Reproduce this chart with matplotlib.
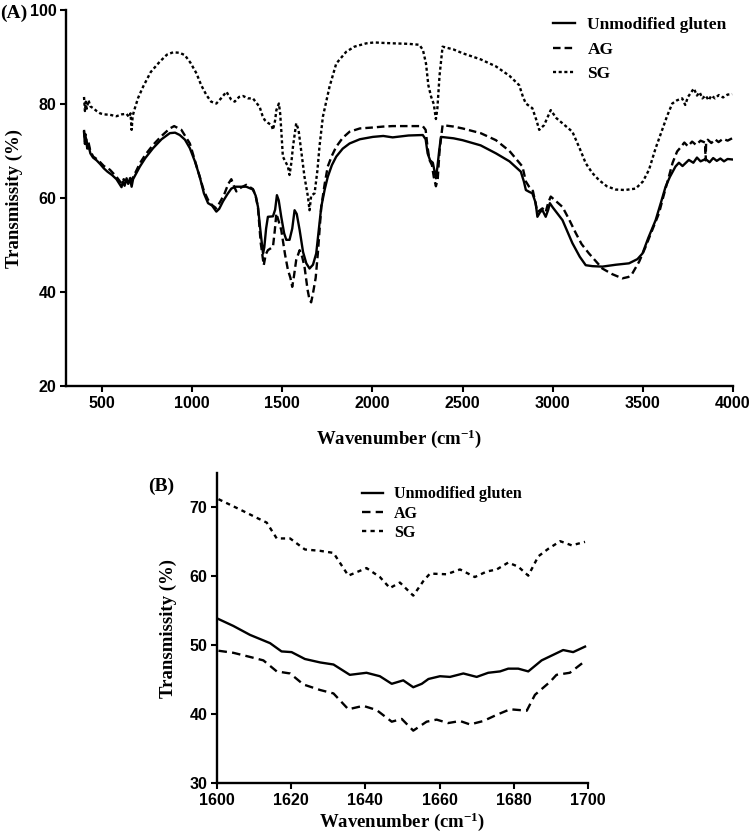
import matplotlib
matplotlib.use("Agg")
import matplotlib.pyplot as plt

# ---- panel A : full FTIR spectra ----
wn_ug = [400, 405, 410, 418, 425, 435, 450, 470, 490, 510, 530, 555, 580, 600, 608, 615, 625, 636, 645, 655,
         664, 672, 690, 710, 740, 783, 830, 876, 905, 931, 960, 987, 1015, 1042, 1065, 1088, 1110, 1134, 1150,
         1171, 1195, 1217, 1240, 1263, 1300, 1337, 1352, 1365, 1380, 1393, 1400, 1410, 1420, 1448, 1460, 1470,
         1480, 1494, 1510, 1522, 1540, 1555, 1568, 1580, 1596, 1615, 1633, 1651, 1670, 1688, 1700, 1716, 1735,
         1752, 1775, 1799, 1835, 1873, 1930, 2002, 2060, 2112, 2200, 2279, 2295, 2306, 2320, 2335, 2343, 2352,
         2360, 2370, 2380, 2450, 2500, 2600, 2685, 2760, 2823, 2840, 2851, 2870, 2887, 2905, 2915, 2930, 2943,
         2961, 2975, 2984, 3000, 3054, 3109, 3150, 3183, 3220, 3275, 3350, 3423, 3470, 3498, 3530, 3571, 3600,
         3626, 3650, 3681, 3700, 3720, 3755, 3780, 3800, 3820, 3848, 3870, 3890, 3910, 3930, 3950, 3970, 3995]
t_ug = [74.0, 71.5, 72.8, 70.5, 71.2, 69.5, 68.6, 68.0, 67.2, 66.3, 65.6, 64.9, 64.0, 62.8, 62.3, 63.5, 62.6,
        64.2, 63.0, 64.1, 62.4, 64.0, 65.3, 66.7, 68.5, 70.6, 72.5, 73.8, 73.9, 73.4, 72.4, 70.6, 67.8, 64.5,
        61.0, 58.9, 58.4, 57.1, 57.7, 59.3, 60.8, 62.0, 62.4, 62.4, 62.4, 61.8, 60.5, 58.1, 52.5, 48.2, 49.5,
        53.5, 56.0, 56.1, 57.5, 60.6, 59.5, 56.0, 52.5, 51.1, 51.1, 53.5, 57.4, 56.6, 53.2, 48.5, 46.1, 45.0,
        45.8, 48.2, 52.5, 58.1, 61.8, 64.5, 67.0, 68.8, 70.5, 71.6, 72.5, 73.0, 73.2, 72.9, 73.3, 73.4, 72.5,
        69.5, 68.0, 67.5, 66.0, 64.2, 66.5, 70.0, 73.0, 72.7, 72.3, 71.2, 69.5, 67.8, 65.6, 63.5, 61.7, 61.3,
        61.0, 59.0, 56.0, 57.0, 57.4, 56.0, 57.5, 58.9, 58.0, 55.3, 50.4, 47.5, 45.7, 45.5, 45.4, 45.8, 46.1,
        47.0, 48.2, 51.5, 55.3, 59.0, 62.4, 64.5, 66.7, 67.5, 66.8, 68.1, 67.5, 68.6, 67.8, 68.3, 67.6, 68.5,
        67.9, 68.4, 67.8, 68.3, 68.2]

wn_ag = [400, 405, 410, 418, 425, 435, 451, 470, 490, 510, 544, 580, 608, 620, 636, 650, 664, 690, 710, 740,
         783, 830, 876, 900, 940, 987, 1015, 1042, 1065, 1088, 1110, 1134, 1160, 1180, 1200, 1217, 1232, 1245,
         1270, 1300, 1337, 1352, 1365, 1380, 1397, 1408, 1420, 1448, 1458, 1467, 1480, 1494, 1515, 1531, 1545,
         1555, 1565, 1577, 1596, 1610, 1623, 1640, 1651, 1660, 1670, 1685, 1697, 1716, 1735, 1752, 1775, 1799,
         1835, 1873, 1930, 2002, 2060, 2112, 2200, 2279, 2295, 2305, 2316, 2330, 2340, 2352, 2362, 2372, 2389,
         2450, 2500, 2600, 2685, 2760, 2832, 2851, 2869, 2890, 2915, 2943, 2961, 2975, 2989, 3010, 3054, 3090,
         3127, 3160, 3201, 3240, 3275, 3330, 3386, 3420, 3441, 3480, 3515, 3550, 3589, 3615, 3644, 3665, 3690,
         3710, 3730, 3750, 3773, 3795, 3820, 3845, 3848, 3851, 3860, 3880, 3900, 3920, 3945, 3970, 3995]
t_ag = [74.5, 72.0, 73.5, 71.0, 71.8, 70.0, 68.8, 68.3, 67.6, 66.8, 66.0, 64.5, 63.1, 64.0, 63.4, 64.5, 63.8,
        65.8, 67.4, 69.2, 71.3, 73.2, 74.8, 75.3, 74.5, 71.6, 68.0, 64.5, 61.5, 59.6, 58.5, 57.8, 59.5, 61.0,
        63.0, 64.0, 62.5, 61.4, 62.2, 62.8, 61.9, 60.5, 57.9, 50.5, 45.7, 48.0, 48.9, 49.6, 53.0, 56.7, 55.0,
        53.2, 48.0, 44.7, 43.0, 41.1, 43.5, 46.8, 48.9, 47.5, 45.4, 40.5, 38.3, 37.8, 39.7, 43.0, 48.2, 58.1,
        63.0, 66.7, 69.0, 70.9, 72.8, 74.1, 74.8, 75.0, 75.2, 75.3, 75.3, 75.3, 74.5, 71.0, 68.1, 67.0, 64.5,
        62.5, 64.0, 70.0, 75.5, 75.2, 74.8, 73.8, 72.3, 70.0, 66.7, 63.5, 62.4, 61.5, 57.0, 57.8, 57.0, 59.0,
        60.3, 59.6, 58.1, 55.5, 52.6, 50.2, 48.2, 46.5, 45.0, 43.8, 42.9, 43.2, 43.9, 46.5, 49.6, 53.0, 56.7,
        60.5, 64.5, 67.5, 69.9, 70.8, 71.8, 71.0, 72.0, 71.3, 72.2, 71.8, 68.0, 71.9, 72.4, 71.7, 72.5, 71.9,
        72.6, 72.2, 72.7]

wn_sg = [400, 405, 410, 415, 425, 435, 451, 470, 490, 510, 544, 580, 610, 636, 650, 658, 664, 670, 682, 700,
         728, 770, 820, 860, 894, 930, 959, 990, 1024, 1050, 1079, 1105, 1134, 1160, 1190, 1215, 1236, 1260,
         1282, 1310, 1337, 1355, 1374, 1390, 1402, 1420, 1440, 1448, 1460, 1467, 1481, 1488, 1494, 1503, 1520,
         1531, 1540, 1550, 1559, 1577, 1590, 1605, 1623, 1642, 1651, 1660, 1679, 1695, 1706, 1725, 1762, 1799,
         1854, 1900, 1965, 2010, 2057, 2120, 2200, 2260, 2280, 2297, 2310, 2325, 2340, 2352, 2360, 2372, 2389,
         2450, 2500, 2600, 2685, 2760, 2814, 2835, 2851, 2887, 2910, 2925, 2952, 2989, 3020, 3054, 3109, 3150,
         3183, 3220, 3257, 3300, 3349, 3400, 3460, 3500, 3534, 3570, 3607, 3635, 3663, 3690, 3718, 3735, 3750,
         3765, 3783, 3800, 3815, 3830, 3848, 3865, 3880, 3900, 3921, 3945, 3970, 3995]
t_sg = [81.5, 78.5, 80.5, 79.0, 80.8, 79.5, 79.1, 78.5, 78.0, 77.8, 77.7, 77.4, 77.8, 77.9, 77.2, 78.0, 74.5,
        77.5, 79.1, 81.3, 83.7, 86.8, 89.0, 90.5, 91.0, 90.9, 90.4, 88.8, 86.5, 84.0, 81.9, 80.5, 80.1, 81.2,
        82.6, 81.0, 80.5, 81.5, 81.7, 81.2, 81.2, 80.3, 79.4, 77.5, 76.6, 76.0, 75.5, 74.5, 76.5, 78.7, 80.1,
        78.0, 74.5, 68.8, 67.5, 66.7, 64.9, 67.5, 70.9, 75.9, 74.5, 70.0, 64.5, 60.3, 57.4, 60.5, 61.0, 66.0,
        70.9, 77.3, 83.7, 88.6, 91.1, 92.2, 92.9, 93.1, 93.0, 92.9, 92.8, 92.6, 91.5, 88.6, 84.0, 81.6, 80.0,
        76.8, 79.0, 86.0, 92.2, 91.6, 90.8, 89.5, 88.0, 86.0, 84.0, 81.5, 80.1, 79.1, 76.5, 74.5, 75.5, 78.7,
        77.0, 75.9, 74.1, 70.5, 67.4, 65.3, 63.8, 62.5, 61.8, 61.7, 62.0, 63.5, 66.0, 70.5, 74.5, 77.5, 80.1,
        80.8, 81.2, 79.8, 81.5, 82.3, 83.3, 81.8, 82.5, 81.2, 81.8, 80.8, 81.8, 81.2, 81.9, 81.4, 82.0, 82.1]

# ---- panel B : amide I zoom ----
wnb_ug = [1600.4, 1604.4, 1608.9, 1614.3, 1617.4, 1620.1, 1623.7, 1627.8, 1631.4, 1635.8, 1640.3, 1643.9,
          1647.1, 1650.2, 1652.9, 1655.2, 1657.0, 1660.1, 1662.8, 1666.4, 1670.0, 1673.1, 1676.3, 1678.5,
          1681.2, 1683.9, 1687.5, 1690.6, 1693.3, 1696.0, 1699.2]
tb_ug = [53.8, 52.8, 51.5, 50.3, 49.1, 49.0, 48.0, 47.5, 47.2, 45.7, 46.0, 45.5, 44.4, 44.9, 43.9, 44.4, 45.1,
         45.5, 45.4, 45.9, 45.4, 46.0, 46.2, 46.6, 46.6, 46.2, 47.8, 48.6, 49.3, 49.0, 49.8]

wnb_ag = [1600.4, 1604.4, 1608.9, 1612.5, 1616.1, 1619.7, 1623.3, 1627.8, 1631.4, 1635.4, 1639.4, 1643.0,
          1647.1, 1649.8, 1652.9, 1656.5, 1659.2, 1662.3, 1665.5, 1668.2, 1671.8, 1675.4, 1679.0, 1683.5,
          1685.7, 1689.8, 1691.5, 1695.1, 1699.2]
tb_ag = [49.2, 48.9, 48.3, 47.8, 46.2, 45.9, 44.3, 43.5, 43.0, 40.7, 41.2, 40.6, 38.9, 39.3, 37.6, 38.9, 39.2,
         38.7, 39.0, 38.5, 39.0, 39.9, 40.7, 40.5, 42.8, 44.7, 45.7, 46.0, 47.7]

wnb_sg = [1600.4, 1606.2, 1610.7, 1613.4, 1616.1, 1619.7, 1623.7, 1627.8, 1631.4, 1635.4, 1640.3, 1643.9,
          1646.6, 1649.3, 1652.9, 1655.6, 1657.4, 1661.9, 1665.5, 1669.5, 1672.7, 1675.4, 1678.5, 1681.2,
          1683.9, 1686.6, 1689.3, 1692.5, 1695.6, 1699.2]
tb_sg = [71.2, 69.7, 68.5, 67.8, 65.5, 65.5, 63.9, 63.7, 63.4, 60.1, 61.2, 59.9, 58.3, 59.1, 57.2, 59.3, 60.4,
         60.3, 61.0, 59.9, 60.7, 61.0, 62.0, 61.4, 60.1, 62.9, 64.0, 65.1, 64.5, 65.0]

labels = ["Unmodified gluten", "AG", "SG"]

plt.rcParams['font.family'] = 'Liberation Sans'
plt.rcParams['font.weight'] = 'bold'
plt.rcParams['mathtext.fontset'] = 'custom'
plt.rcParams['mathtext.rm'] = 'Liberation Serif:bold'
plt.rcParams['mathtext.it'] = 'Liberation Serif:bold'
plt.rcParams['mathtext.bf'] = 'Liberation Serif:bold'

serif = dict(family='Liberation Serif', weight='bold')

fig = plt.figure(figsize=(7.5, 8.35), dpi=100)
axA = fig.add_axes([66/750, 1-386/835, (733-66)/750, (386-10)/835])
axB = fig.add_axes([217/750, 1-783/835, (588-217)/750, (783-473)/835])


def style_axis(ax):
    for s in ['top', 'right']:
        ax.spines[s].set_visible(False)
    for s in ['left', 'bottom']:
        ax.spines[s].set_linewidth(1.7)
    ax.tick_params(direction='out', length=4, width=1.5, labelsize=11.5, pad=3)
    for lab in ax.get_xticklabels() + ax.get_yticklabels():
        lab.set_fontweight('bold')


lw = 1.7
axA.plot(wn_ug, t_ug, color='black', lw=lw, label=labels[0])
axA.plot(wn_ag, t_ag, color='black', lw=lw, dashes=(3.2, 1.7), label=labels[1])
axA.plot(wn_sg, t_sg, color='black', lw=lw, dashes=(1.3, 1.1), label=labels[2])
axA.set_xlim(300, 4000)
axA.set_ylim(20, 100)
axA.set_xticks(range(500, 4001, 500))
axA.set_yticks(range(20, 101, 20))
style_axis(axA)
axA.set_xlabel('Wavenumber (cm$^{-1}$)', fontsize=13.5, labelpad=12, **serif)
axA.set_ylabel('Transmissity (%)', fontsize=13.5, labelpad=5, **serif)
axA.legend(loc='upper left', bbox_to_anchor=(537/750, 1-1/835), bbox_transform=fig.transFigure,
           frameon=False, handlelength=1.3, handletextpad=0.7, labelspacing=0.5,
           prop=dict(family='Liberation Serif', weight='bold', size=12.5))

axB.plot(wnb_ug, tb_ug, color='black', lw=lw, label=labels[0])
axB.plot(wnb_ag, tb_ag, color='black', lw=lw, dashes=(3.6, 2.2), label=labels[1])
axB.plot(wnb_sg, tb_sg, color='black', lw=lw, dashes=(1.8, 1.8), label=labels[2])
axB.set_xlim(1600, 1700)
axB.set_ylim(30, 75)
axB.set_xticks(range(1600, 1701, 20))
axB.set_yticks(range(30, 71, 10))
style_axis(axB)
axB.set_xlabel('Wavenumber (cm$^{-1}$)', fontsize=13.5, labelpad=2, **serif)
axB.set_ylabel('Transmissity (%)', fontsize=13.5, labelpad=9, **serif)
axB.legend(loc='upper left', bbox_to_anchor=(348/750, 1-472/835), bbox_transform=fig.transFigure,
           frameon=False, handlelength=1.3, handletextpad=0.7, labelspacing=0.2,
           prop=dict(family='Liberation Serif', weight='bold', size=11.5))

fig.text(0.0, 1-13/835, '(A)', fontsize=14, va='center', ha='left', **serif)
fig.text(148/750, 1-486/835, '(B)', fontsize=14, va='center', ha='left', **serif)

fig.savefig('out.png', dpi=100)
